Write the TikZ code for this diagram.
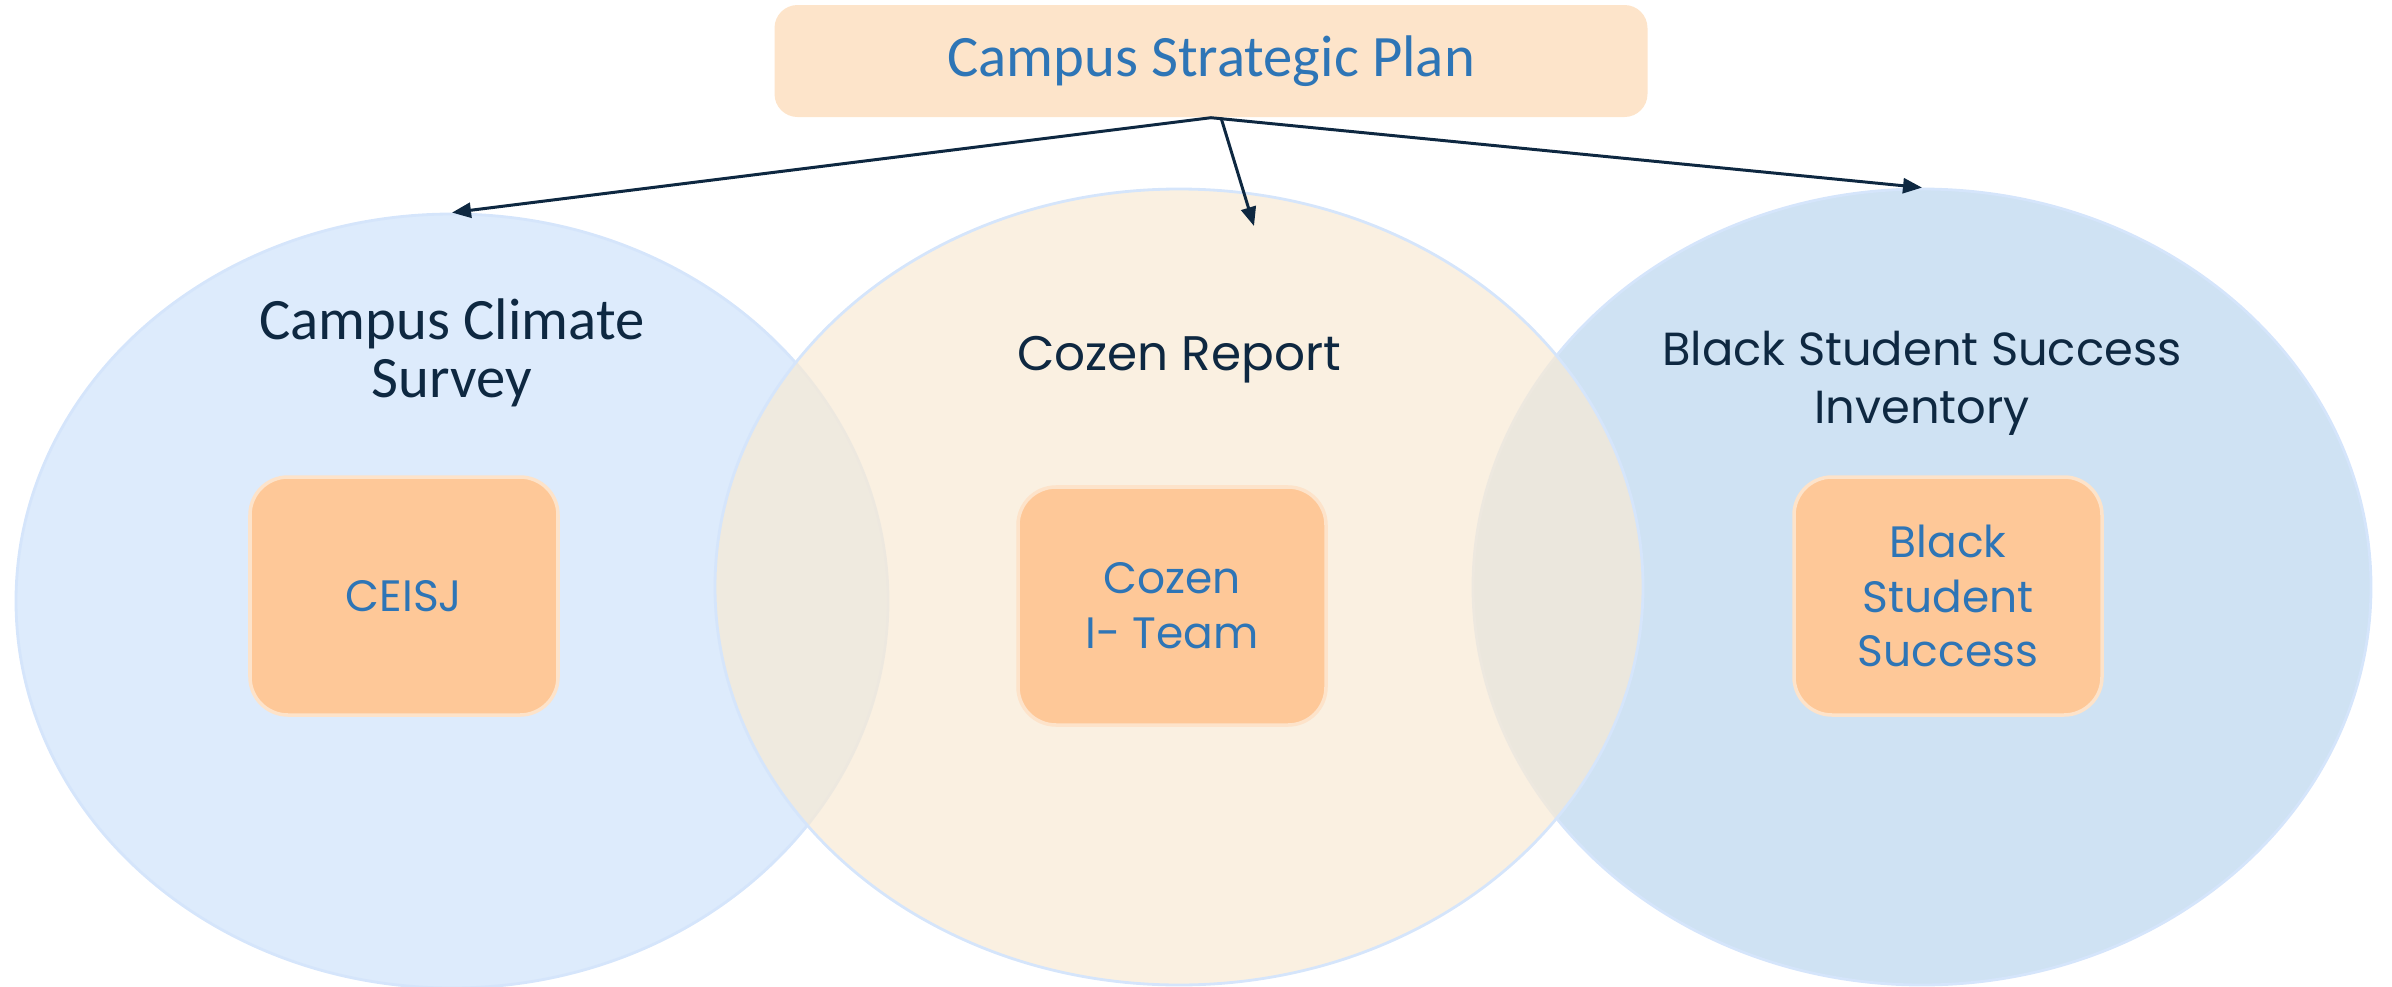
\documentclass[tikz,border=0pt]{standalone}
\usepackage{fontspec}
\setmainfont{Carlito}
\newfontfamily\gothic{Poppins}
\usepackage{tikz}
\usetikzlibrary{arrows.meta,shapes.geometric}

\definecolor{navy}{RGB}{14,40,65}
\definecolor{linkblue}{RGB}{46,117,182}
\definecolor{peach}{RGB}{253,228,202}
\definecolor{apricot}{RGB}{254,200,152}
\definecolor{apricotrim}{RGB}{253,227,202}
\definecolor{skyfill}{RGB}{221,235,252}
\definecolor{steelfill}{RGB}{207,226,243}
\definecolor{sandfill}{RGB}{248,234,212}
\definecolor{rimblue}{RGB}{213,229,251}

\begin{document}
\begin{tikzpicture}[
  bubble/.style={ellipse, draw=rimblue, line width=0.8pt, inner sep=0pt},
  heading/.style={text=navy, align=center, font=\fontsize{16.7}{16.4}\selectfont},
  gheading/.style={text=navy, align=center, font=\gothic\fontsize{13.2}{16.4}\selectfont},
  team/.style={rectangle, rounded corners=3.8mm, fill=apricot, draw=apricotrim,
    line width=1pt, minimum width=3.08cm, minimum height=2.38cm,
    text=linkblue, align=center, font=\gothic\fontsize{12.5}{15.6}\selectfont},
  link/.style={navy, line width=0.85pt, -{Triangle[length=1.9mm, width=1.5mm]}}
]
\useasboundingbox (0,0) rectangle (23.92,-9.87);

% circles of the report
\node[bubble, fill=skyfill, minimum width=8.72cm, minimum height=7.74cm] (climate) at (4.52,-6.01) {};
\node[bubble, fill=steelfill, minimum width=8.98cm, minimum height=7.96cm] (inventory) at (19.22,-5.87) {};
\node[bubble, fill=sandfill, fill opacity=0.7, minimum width=9.28cm, minimum height=7.96cm] (cozen) at (11.79,-5.87) {};

% plan on top
\node[rectangle, rounded corners=2.3mm, fill=peach, minimum width=8.73cm, minimum height=1.12cm,
  text=linkblue, font=\fontsize{16.7}{20}\selectfont] (plan) at (12.11,-0.61) {Campus Strategic Plan};

% titles
\node[heading] (climatetitle) at (4.52,-3.53) {Campus Climate\\Survey};
\node[gheading, font=\gothic\fontsize{13.8}{16.4}\selectfont] (cozentitle) at (11.79,-3.60) {Cozen Report};
\node[gheading] (inventorytitle) at (19.22,-3.83) {Black Student Success\\Inventory};

% teams
\node[team] (ceisj) at (4.04,-5.96) {CEISJ};
\node[team] (iteam) at (11.72,-6.06) {Cozen\\I- Team};
\node[team] (bss) at (19.48,-5.96) {Black\\Student\\Success};

\coordinate (cozentip) at (12.54,-2.26);
\path[link]
  (plan.south) edge (climate.north)
               edge (inventory.north)
  ([xshift=1mm]plan.south) edge (cozentip);
\end{tikzpicture}
\end{document}
